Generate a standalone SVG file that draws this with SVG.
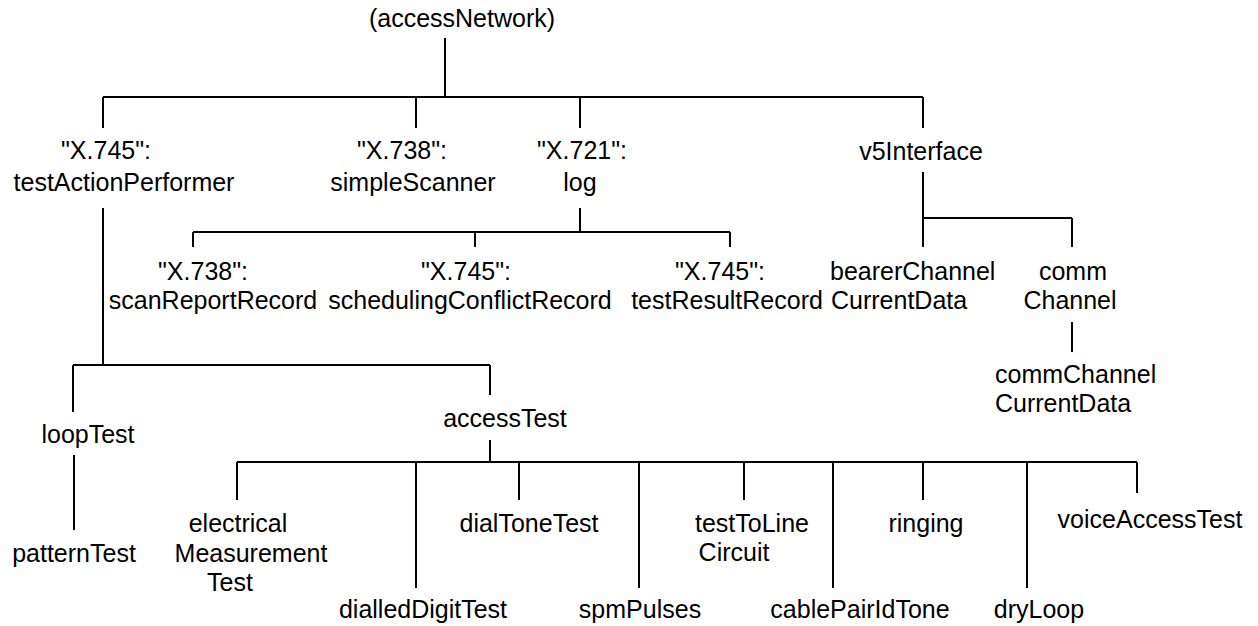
<svg xmlns="http://www.w3.org/2000/svg" width="1258" height="626" viewBox="0 0 1258 626">
  <style>
    text { font-family: "Liberation Sans", Arial, sans-serif; font-size: 25px; fill: #000; }
    .m { text-anchor: middle; }
    .s { text-anchor: start; }
    #connectors path { fill: none; stroke: #000; stroke-width: 2; }
  </style>
  <rect width="1258" height="626" fill="#fff"/>

  <!-- tree connectors -->
  <g id="connectors">
    <path d="M445,38 V97 M103,97 H923 M103,97 V128 M416,97 V128 M580,97 V128 M923,97 V128"/>
    <path d="M103,208 V365 M73,365 H490 M73,365 V412 M490,365 V395"/>
    <path d="M580,208 V232 M193,232 H730 M193,232 V247 M475,232 V247 M730,232 V247"/>
    <path d="M923,172 V218 H1072 M923,218 V247 M1072,218 V247"/>
    <path d="M1072,322 V352"/>
    <path d="M74,455 V530"/>
    <path d="M490,440 V462 M237,462 H1137"/>
    <path d="M237,462 V500 M416,462 V588 M519,462 V500 M639,462 V588 M744,462 V500 M833,462 V588 M923,462 V500 M1027,462 V588 M1137,462 V493"/>
  </g>

  <g id="accessNetwork"><text class="m" x="462" y="27">(accessNetwork)</text></g>

  <g id="testActionPerformer">
    <text class="m" x="106" y="159">"X.745":</text>
    <text class="m" x="124" y="191">testActionPerformer</text>
  </g>
  <g id="simpleScanner">
    <text class="m" x="402" y="159">"X.738":</text>
    <text class="m" x="413" y="191">simpleScanner</text>
  </g>
  <g id="log">
    <text class="m" x="582" y="159">"X.721":</text>
    <text class="m" x="580" y="191">log</text>
  </g>
  <g id="v5Interface"><text class="m" x="921" y="160">v5Interface</text></g>

  <g id="scanReportRecord">
    <text class="m" x="203" y="280">"X.738":</text>
    <text class="m" x="213" y="309">scanReportRecord</text>
  </g>
  <g id="schedulingConflictRecord">
    <text class="m" x="466" y="280">"X.745":</text>
    <text class="m" x="470" y="309">schedulingConflictRecord</text>
  </g>
  <g id="testResultRecord">
    <text class="m" x="720" y="280">"X.745":</text>
    <text class="m" x="727" y="309">testResultRecord</text>
  </g>
  <g id="bearerChannelCurrentData">
    <text class="s" x="830" y="280">bearerChannel</text>
    <text class="s" x="831" y="309">CurrentData</text>
  </g>
  <g id="commChannel">
    <text class="m" x="1073" y="280">comm</text>
    <text class="m" x="1070" y="309">Channel</text>
  </g>
  <g id="commChannelCurrentData">
    <text class="s" x="995" y="383">commChannel</text>
    <text class="s" x="995" y="412">CurrentData</text>
  </g>

  <g id="loopTest"><text class="m" x="88" y="443">loopTest</text></g>
  <g id="patternTest"><text class="m" x="74" y="562">patternTest</text></g>
  <g id="accessTest"><text class="m" x="505" y="427">accessTest</text></g>

  <g id="electricalMeasurementTest">
    <text class="m" x="238" y="532">electrical</text>
    <text class="m" x="251" y="562">Measurement</text>
    <text class="m" x="230" y="591">Test</text>
  </g>
  <g id="dialledDigitTest"><text class="m" x="423" y="618">dialledDigitTest</text></g>
  <g id="dialToneTest"><text class="m" x="529" y="532">dialToneTest</text></g>
  <g id="spmPulses"><text class="m" x="640" y="618">spmPulses</text></g>
  <g id="testToLineCircuit">
    <text class="m" x="752" y="532">testToLine</text>
    <text class="m" x="734" y="561">Circuit</text>
  </g>
  <g id="ringing"><text class="m" x="926" y="532">ringing</text></g>
  <g id="cablePairIdTone"><text class="m" x="860" y="618">cablePairIdTone</text></g>
  <g id="dryLoop"><text class="m" x="1039" y="618">dryLoop</text></g>
  <g id="voiceAccessTest"><text class="m" x="1150" y="528">voiceAccessTest</text></g>
</svg>
